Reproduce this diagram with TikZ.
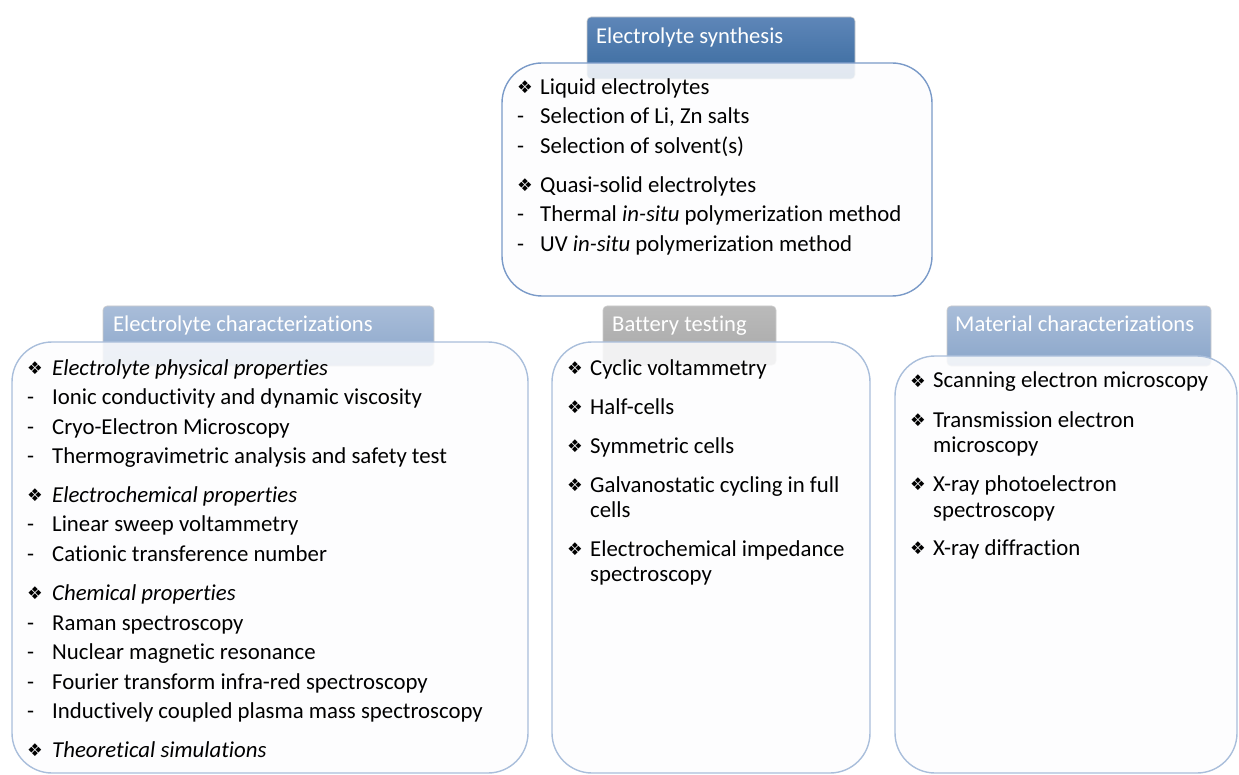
\documentclass[tikz,border=0pt]{standalone}
\usepackage{fontspec}
\setmainfont{Carlito}[RawFeature={-liga;-calt;-clig;-dlig}]
\newfontfamily\symfont{DejaVu Sans}
\usetikzlibrary{positioning}
\definecolor{tabdarktop}{HTML}{5E86B8}
\definecolor{tabdarkbot}{HTML}{3A6B9F}
\definecolor{tablighttop}{HTML}{A9BDD9}
\definecolor{tablightbot}{HTML}{8BA6CA}
\definecolor{tabgreytop}{HTML}{BABABA}
\definecolor{tabgreybot}{HTML}{A8A8A8}
\definecolor{panellinedark}{HTML}{7A9AC8}
\definecolor{panelline}{HTML}{A9BEDB}
\definecolor{panelfill}{HTML}{FDFDFE}
\newcommand{\bul}{{\symfont\fontsize{17.5}{18}\selectfont\raisebox{1pt}{❖}}}
\newcommand{\dsh}{-}
\tikzset{
        % Title tabs behind the boxes
        tab/.style={anchor=north west, inner sep=0pt, outer sep=0pt, rounded corners=4pt, draw=white!60!gray, line width=0.6pt},
        tab_dark/.style={tab, top color=tabdarktop, bottom color=tabdarkbot},
        tab_light/.style={tab, top color=tablighttop, bottom color=tablightbot},
        tab_grey/.style={tab, top color=tabgreytop, bottom color=tabgreybot},
        % Tab titles
        title/.style={anchor=base west, inner sep=0pt, text=white, font=\fontsize{22.6}{26}\selectfont},
        % Content boxes
        panel/.style={anchor=north west, inner sep=0pt, outer sep=0pt, rounded corners=40pt, draw=panelline, line width=1.4pt, fill=panelfill, fill opacity=0.86},
        % Bullet and text of a line
        marker/.style={anchor=base west, inner sep=0pt, font=\fontsize{22.8}{26}\selectfont},
        item/.style={anchor=base west, inner sep=0pt, font=\fontsize{22.8}{26}\selectfont}
}
\begin{document}
\begin{tikzpicture}[x=1pt, y=-1pt]
    \useasboundingbox (0,0) rectangle (1239,775);
    % tabs
    \node[tab_dark, minimum width=268pt, minimum height=62pt] (synth_tab) at (587,17) {};
    \node[tab_light, minimum width=331pt, minimum height=60pt] (echar_tab) at (103,306) {};
    \node[tab_grey, minimum width=173pt, minimum height=59pt] (bat_tab) at (603,306) {};
    \node[tab_light, minimum width=264pt, minimum height=60pt] (mchar_tab) at (947,306) {};
    % boxes
    \node[panel, draw=panellinedark, minimum width=430pt, minimum height=233pt] (synth_box) at (502,63) {};
    \node[panel, minimum width=516pt, minimum height=431pt] (echar_box) at (12,342) {};
    \node[panel, minimum width=318pt, minimum height=431pt] (bat_box) at (552,342) {};
    \node[panel, minimum width=342pt, minimum height=417pt] (mchar_box) at (895,356) {};
    % titles
    \node[title] (synth_title) at (596,44) {Electrolyte synthesis};
    \node[title] (echar_title) at (113,332) {Electrolyte characterizations};
    \node[title] (bat_title) at (612,332) {Battery testing};
    \node[title] (mchar_title) at (955,332) {Material characterizations};
    % Electrolyte synthesis
    \foreach \y/\m/\t [count=\i] in {95/\bul/Liquid electrolytes,
            {124/\dsh/Selection of Li, Zn salts},
            154/\dsh/Selection of solvent(s),
            193/\bul/Quasi-solid electrolytes,
            222/\dsh/Thermal \textit{in-situ} polymerization method,
            252/\dsh/UV \textit{in-situ} polymerization method} {
        \node[marker] (synth_m\i) at (517,\y) {\m};
        \node[item] (synth_t\i) at (540,\y) {\t};
    }
    % Electrolyte characterizations
    \foreach \y/\m/\t [count=\i] in {375/\bul/\textit{Electrolyte physical properties},
            404/\dsh/Ionic conductivity and dynamic viscosity,
            434/\dsh/Cryo-Electron Microscopy,
            463/\dsh/Thermogravimetric analysis and safety test,
            502/\bul/\textit{Electrochemical properties},
            531/\dsh/Linear sweep voltammetry,
            561/\dsh/Cationic transference number,
            600/\bul/\textit{Chemical properties},
            630/\dsh/Raman spectroscopy,
            659/\dsh/Nuclear magnetic resonance,
            689/\dsh/Fourier transform infra-red spectroscopy,
            718/\dsh/Inductively coupled plasma mass spectroscopy,
            757/\bul/\textit{Theoretical simulations}} {
        \node[marker] (echar_m\i) at (27,\y) {\m};
        \node[item] (echar_t\i) at (52,\y) {\t};
    }
    % Battery testing
    \foreach \y/\m/\t [count=\i] in {375/\bul/Cyclic voltammetry,
            414/\bul/Half-cells,
            453/\bul/Symmetric cells,
            492/\bul/Galvanostatic cycling in full,
            517//cells,
            556/\bul/Electrochemical impedance,
            581//spectroscopy} {
        \node[marker] (bat_m\i) at (567,\y) {\m};
        \node[item] (bat_t\i) at (590,\y) {\t};
    }
    % Material characterizations
    \foreach \y/\m/\t [count=\i] in {388/\bul/Scanning electron microscopy,
            427/\bul/Transmission electron,
            452//microscopy,
            491/\bul/X-ray photoelectron,
            517//spectroscopy,
            555/\bul/X-ray diffraction} {
        \node[marker] (mchar_m\i) at (910,\y) {\m};
        \node[item] (mchar_t\i) at (933,\y) {\t};
    }
\end{tikzpicture}
\end{document}
